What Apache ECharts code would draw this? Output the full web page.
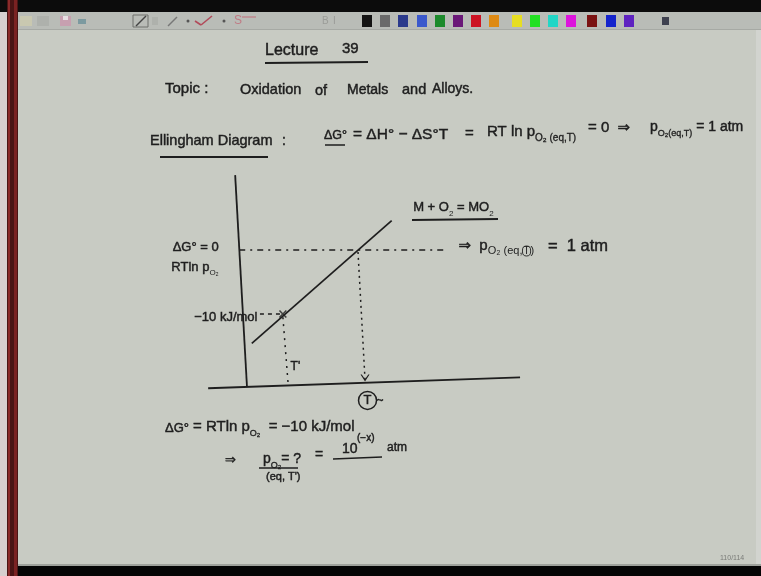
<!DOCTYPE html>
<html>
<head>
<meta charset="utf-8">
<script src="https://cdn.jsdelivr.net/npm/echarts@6/dist/echarts.min.js"></script>
<style>
  html, body { margin: 0; padding: 0; background: #c8cbc3; }
  #c { width: 761px; height: 576px; }
</style>
</head>
<body>
<div id="c"></div>
<script>
// Ellingham diagram sketch.
// Horizontal: temperature T in arbitrary units (T' = 1, T = 3).
// Vertical: standard free energy of oxide formation, ΔG° in kJ/mol.
const tAxisStroke  = [[-1.05, -21.6], [7.38, -19.9]];   // hand-drawn T axis
const gAxisStroke  = [[0, -21.4], [-0.32, 11.7]];       // hand-drawn ΔG° axis
const oxideLine    = [[0.13, -14.6], [3.91, 4.6]];      // M + O2 = MO2
const zeroGuide    = [[-0.21, 0], [5.43, 0]];           // ΔG° = 0
const minus10Guide = [[0.35, -10], [0.97, -10]];        // ΔG° = -10 kJ/mol
const tPrimeDrop   = [[0.97, -10.5], [1.11, -20.8]];    // down to T'
const tDrop        = [[3.0, -0.3], [3.19, -20.3]];      // down to T
const markedPoint  = [[0.97, -10]];                     // state at T'

// pen colour palette of the toolbar
const swatchColors = ['#141414', '#6a6a6a', '#2b3a8c', '#3a58cc', '#1c8a2c', '#6a1878',
  '#cc1222', '#de8a14', '#e6de22', '#22e022', '#22d6c6', '#dc14dc', '#7a1212', '#1424cc', '#5e22c0'];
const swatchX = [362, 380, 398, 417, 435, 453, 471, 489, 512, 530, 548, 566, 587, 606, 624];

const INK = '#1e1e1e';
const FONT = "'Liberation Sans', 'DejaVu Sans', sans-serif";
const PEN = 0.45;   // extra stroke to give the lettering a marker weight

const chart = echarts.init(document.getElementById('c'), null, { renderer: 'canvas' });

function txt(x, y, text, size, extra) {
  return {
    type: 'text', z: 10,
    style: Object.assign({
      x: x, y: y, text: text, fill: INK, fontSize: size, fontFamily: FONT,
      verticalAlign: 'middle', align: 'left', stroke: INK, lineWidth: PEN
    }, extra || {})
  };
}
function richTxt(x, y, text, size, subSize) {
  return txt(x, y, text, size, {
    rich: {
      a: { fontSize: size, fontFamily: FONT, fill: INK, lineHeight: 22, stroke: INK, lineWidth: PEN },
      s: { fontSize: subSize, fontFamily: FONT, fill: INK, lineHeight: subSize, verticalAlign: 'bottom',
           stroke: INK, lineWidth: PEN * 0.7 }
    }
  });
}
function stroke(x1, y1, x2, y2, w, color) {
  return { type: 'line', z: 10, shape: { x1: x1, y1: y1, x2: x2, y2: y2 },
           style: { stroke: color || INK, lineWidth: w || 1.6 } };
}

// window frame and toolbar
const frame = [
  { type: 'rect', z: 1, shape: { x: 0, y: 0, width: 761, height: 576 }, style: { fill: '#c8cbc3' } },
  { type: 'rect', z: 2, shape: { x: 0, y: 0, width: 761, height: 12 }, style: { fill: '#0c0c0c' } },
  { type: 'rect', z: 2, shape: { x: 18, y: 12, width: 743, height: 18 }, style: { fill: '#b9bcb7' } },
  { type: 'rect', z: 2, shape: { x: 18, y: 29, width: 743, height: 1 }, style: { fill: '#a6a9a4' } },
  { type: 'rect', z: 2, shape: { x: 0, y: 12, width: 7, height: 564 }, style: { fill: '#d6cfcf' } },
  { type: 'rect', z: 2, shape: { x: 7, y: 0, width: 11, height: 576 }, style: { fill: '#4a1515' } },
  { type: 'rect', z: 2, shape: { x: 8, y: 0, width: 2, height: 576 }, style: { fill: '#8a2a2a' } },
  { type: 'rect', z: 2, shape: { x: 14, y: 0, width: 3, height: 576 }, style: { fill: '#7a2222' } },
  { type: 'rect', z: 2, shape: { x: 18, y: 564, width: 743, height: 2 }, style: { fill: '#9ea19b' } },
  { type: 'rect', z: 2, shape: { x: 18, y: 566, width: 743, height: 10 }, style: { fill: '#050505' } },
  { type: 'rect', z: 2, shape: { x: 756, y: 30, width: 5, height: 534 }, style: { fill: '#d2d4cf' } },
  // toolbar icons
  { type: 'rect', z: 3, shape: { x: 20, y: 16, width: 12, height: 10 }, style: { fill: '#c9c8b0' } },
  { type: 'rect', z: 3, shape: { x: 37, y: 16, width: 12, height: 10 }, style: { fill: '#aeb1ac' } },
  { type: 'rect', z: 3, shape: { x: 60, y: 16, width: 11, height: 10 }, style: { fill: '#c7a0b0' } },
  { type: 'rect', z: 3, shape: { x: 63, y: 16, width: 5, height: 4 }, style: { fill: '#e6dfe2' } },
  { type: 'rect', z: 3, shape: { x: 78, y: 19, width: 8, height: 5 }, style: { fill: '#7c9aa0' } },
  { type: 'rect', z: 3, shape: { x: 133, y: 15, width: 15, height: 12 }, style: { fill: 'none', stroke: '#6f706c', lineWidth: 1 } },
  stroke(136, 26, 146, 16, 1.4, '#444'),
  { type: 'rect', z: 3, shape: { x: 152, y: 17, width: 6, height: 8 }, style: { fill: '#aeb1ac' } },
  stroke(168, 26, 177, 17, 1.4, '#777'),
  { type: 'circle', z: 3, shape: { cx: 188, cy: 21, r: 1.5 }, style: { fill: '#555' } },
  stroke(195, 21, 201, 25, 1.6, '#b24a5a'),
  stroke(201, 25, 212, 16, 1.6, '#b24a5a'),
  { type: 'circle', z: 3, shape: { cx: 224, cy: 21, r: 1.5 }, style: { fill: '#555' } },
  txt(234, 21, 'S', 12, { fill: '#c07a84', lineWidth: 0 }),
  stroke(242, 17, 256, 17, 1.2, '#c07a84'),
  txt(322, 21, 'B', 10, { fill: '#9a9c98', lineWidth: 0 }),
  txt(333, 21, 'I', 10, { fill: '#9a9c98', lineWidth: 0 }),
  { type: 'rect', z: 3, shape: { x: 662, y: 17, width: 7, height: 8 }, style: { fill: '#3e4150' } }
];
swatchX.forEach(function (x, i) {
  frame.push({ type: 'rect', z: 3, shape: { x: x, y: 15, width: 10, height: 12 }, style: { fill: swatchColors[i] } });
});

// handwritten notes
const notes = [
  txt(265, 51, 'Lecture', 16),
  txt(342, 49, '39', 15),
  stroke(265, 63, 368, 62, 1.8),

  txt(165, 89, 'Topic :', 15),
  txt(240, 90, 'Oxidation', 14.5),
  txt(315, 91, 'of', 14.5),
  txt(347, 90, 'Metals', 14),
  txt(402, 90, 'and', 14.5),
  txt(432, 89, 'Alloys.', 14),

  txt(150, 141, 'Ellingham Diagram', 14.5),
  txt(282, 141, ':', 14),
  stroke(160, 157, 268, 157, 1.8),

  txt(324, 136, 'ΔG°', 12.5),
  stroke(325, 145, 345, 145, 1.5),
  txt(353, 135, '= ΔH° − ΔS°T', 15.5),
  txt(465, 134, '=', 15),
  richTxt(487, 132, '{a|RT ln p}{s|O₂}{s| (eq,T)}', 15, 10),
  txt(588, 128, '= 0  ⇒', 15),
  richTxt(650, 127, '{a|p}{s|O₂}{s|(eq,T)}{a| = 1 atm}', 14, 9),

  txt(165, 428, 'ΔG°', 13),
  richTxt(193, 427, '{a|= RTln p}{s|O₂}{a|  = −10 kJ/mol}', 15, 9),
  txt(225, 460, '⇒', 13),
  richTxt(263, 459, '{a|p}{s|O₂}{a|= ?}', 14, 9),
  txt(315, 455, '=', 14),
  txt(342, 449, '10', 14),
  txt(357, 438, '(−x)', 10),
  stroke(333, 459, 382, 457, 1.5),
  txt(387, 448, 'atm', 12),
  stroke(259, 468, 298, 468, 1.5),
  txt(266, 477, "(eq, T')", 11),

  txt(720, 558, '110/114', 7, { fill: '#7a7c78', lineWidth: 0 }),

  stroke(412, 220, 498, 219, 1.8)
];

const inkLine = { color: INK, width: 1.8 };
const labelRich = {
  a: { fontSize: 13, fontFamily: FONT, color: INK, lineHeight: 20, textBorderColor: INK, textBorderWidth: PEN },
  b: { fontSize: 15, fontFamily: FONT, color: INK, lineHeight: 20, textBorderColor: INK, textBorderWidth: PEN },
  bb: { fontSize: 16.5, fontFamily: FONT, color: INK, lineHeight: 20, textBorderColor: INK, textBorderWidth: PEN },
  s: { fontSize: 8, fontFamily: FONT, color: INK, lineHeight: 8, verticalAlign: 'bottom' },
  sb: { fontSize: 11, fontFamily: FONT, color: INK, lineHeight: 11, verticalAlign: 'bottom' },
  c: { fontSize: 13, fontFamily: FONT, color: INK, borderColor: INK, borderWidth: 1.5,
       borderRadius: 10, width: 18, height: 18, align: 'center', lineHeight: 18,
       textBorderColor: INK, textBorderWidth: PEN },
  ct: { fontSize: 10, fontFamily: FONT, color: INK, borderColor: INK, borderWidth: 0.9,
        borderRadius: 6, padding: [0, 1, 0, 1], lineHeight: 11, verticalAlign: 'bottom' },
  t: { fontSize: 12, fontFamily: FONT, color: INK, textBorderColor: INK, textBorderWidth: PEN }
};
// invisible anchor symbol so that per-point labels are drawn
const anchor = { symbol: 'circle', symbolSize: 1, itemStyle: { color: 'rgba(0,0,0,0)' } };
function anchored(value, label) {
  return Object.assign({ value: value, label: Object.assign({ show: true, rich: labelRich }, label) }, anchor);
}

const option = {
  animation: false,
  backgroundColor: '#c8cbc3',
  graphic: frame.concat(notes),
  grid: { left: 200.75, top: 170, width: 333, height: 224, containLabel: false },
  xAxis: { type: 'value', min: -1.25, max: 7.75, show: false },
  yAxis: { type: 'value', min: -22.5, max: 12.5, show: false },
  series: [
    { name: 'T axis', type: 'line', data: tAxisStroke, symbol: 'none', lineStyle: inkLine, z: 5 },
    { name: 'ΔG axis', type: 'line', data: gAxisStroke, symbol: 'none', lineStyle: inkLine, z: 5 },
    {
      name: 'M + O2 = MO2', type: 'line', z: 5, lineStyle: { color: INK, width: 1.7 },
      symbol: 'none', showSymbol: true,
      data: [
        { value: oxideLine[0], symbol: 'none' },
        anchored(oxideLine[1], { position: 'right', distance: 4, offset: [17, -13],
          formatter: '{a|M + O}{s|2}{a| = MO}{s|2}' })
      ]
    },
    {
      name: 'ΔG° = 0', type: 'line', z: 4, symbol: 'none', showSymbol: true,
      lineStyle: { color: INK, width: 1.5, type: [6, 5, 2, 5] },
      data: [
        anchored(zeroGuide[0], { position: 'left', distance: 20, offset: [0, 7], align: 'right',
          formatter: '{a|ΔG° = 0}\n{a|RTln p}{s|O₂}' }),
        anchored(zeroGuide[1], { position: 'right', distance: 10, offset: [0, -4],
          formatter: '{b|⇒  p}{sb|O₂ (eq,}{ct|T}{sb|)}{bb|   =  1 atm}' })
      ]
    },
    {
      name: '-10 kJ/mol', type: 'line', z: 4, symbol: 'none', showSymbol: true,
      lineStyle: { color: INK, width: 1.5, type: [4, 4] },
      data: [
        anchored(minus10Guide[0], { position: 'left', distance: 2, offset: [0, 3],
          formatter: '{a|−10 kJ/mol}' }),
        { value: minus10Guide[1], symbol: 'none' }
      ]
    },
    {
      name: "T'", type: 'line', z: 4, symbol: 'none', showSymbol: true,
      lineStyle: { color: INK, width: 1.5, type: [2, 5] },
      data: [
        { value: tPrimeDrop[0], symbol: 'none' },
        anchored(tPrimeDrop[1], { position: 'right', distance: 2, offset: [0, -16],
          formatter: "{t|T'}" })
      ]
    },
    {
      name: 'T', type: 'line', z: 4,
      lineStyle: { color: INK, width: 1.5, type: [2, 4] },
      itemStyle: { color: INK },
      symbol: 'none',
      data: [
        tDrop[0],
        { value: tDrop[1], symbol: 'path://M0,0 L5,8 L10,0 L8.6,0 L5,5.6 L1.4,0 Z',
          symbolSize: [9, 7], symbolOffset: [0, -2],
          label: { show: true, position: 'bottom', distance: 9, offset: [6, 1],
                   formatter: '{c|T}{t|~}', rich: labelRich } }
      ]
    },
    {
      name: 'state at T\'', type: 'scatter', z: 6,
      symbol: 'path://M0,1.4 L1.4,0 L5,3.6 L8.6,0 L10,1.4 L6.4,5 L10,8.6 L8.6,10 L5,6.4 L1.4,10 L0,8.6 L3.6,5 Z',
      symbolSize: 8, itemStyle: { color: INK },
      data: markedPoint
    }
  ]
};

chart.setOption(option);
</script>
</body>
</html>
